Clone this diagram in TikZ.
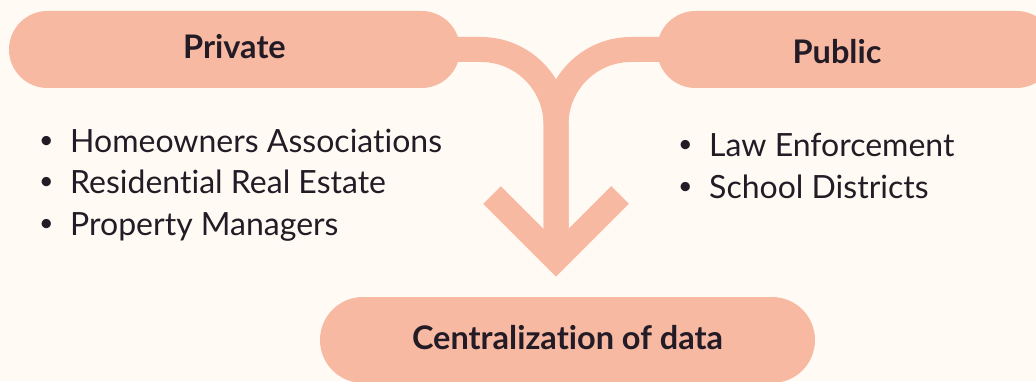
\documentclass[tikz,border=0pt]{standalone}
\usepackage{fontspec}
\setmainfont{Lato}[Ligatures={NoCommon}]
\usepackage{xcolor}
\usepackage{tikz}
\usetikzlibrary{positioning,calc,shapes.misc}

\definecolor{salmon}{HTML}{F7B9A2}
\definecolor{cream}{HTML}{FFFBF4}
\definecolor{ink}{HTML}{231B25}
\newcommand{\bul}{\makebox[31pt][l]{\raisebox{3.2pt}{\scalebox{0.78}{\textbullet}}}}

\tikzset{
  pill/.style={rounded rectangle, fill=salmon, minimum height=77pt, inner sep=0pt,
    font=\fontsize{32.5}{38}\selectfont\bfseries, text=ink},
  band/.style={draw=salmon, line width=25pt, rounded corners=75pt},
  item/.style={anchor=base west, inner sep=0pt, font=\fontsize{32}{38}\selectfont, text=ink}
}

\begin{document}
\begin{tikzpicture}[x=1pt,y=1pt]
    % Background
    \fill [cream] (0,0) rectangle (1036,381);
    \useasboundingbox (0,0) rectangle (1036,381);

    % Arrow points
    \coordinate (tip) at (556,122);
    \coordinate (armL) at (492,186);
    \coordinate (armR) at (620,186);
    \coordinate (privc) at (234.5,331.5);
    \coordinate (pubc) at (856,331.5);

    % Merging band
    \draw [band] (privc) -| (tip);
    \draw [band] (pubc) -| (tip);
    \draw [band, sharp corners] (armL) -- (tip) -- (armR);

    % Pills
    \node [pill, minimum width=451pt, text depth=7pt] (private) at (privc) {Private};
    \node [pill, minimum width=398pt,
           label={[font=\fontsize{32.5}{38}\selectfont\bfseries, text=ink, xshift=-19pt, yshift=-2.5pt]center:Public}]
           (public) at (pubc) {};
    \node [pill, minimum width=495pt, minimum height=86pt, text depth=5pt] (central) at (567.5,41) {Centralization of data};

    % Private list
    \node [item] (hoa) at (39,229) {\bul Homeowners Associations};
    \node [item] (rre) at (39,188) {\bul Residential Real Estate};
    \node [item] (pm)  at (39,146) {\bul Property Managers};

    % Public list
    \node [item] (law)    at (678,225) {\bul Law Enforcement};
    \node [item] (school) at (678,183) {\bul School Districts};
\end{tikzpicture}
\end{document}
